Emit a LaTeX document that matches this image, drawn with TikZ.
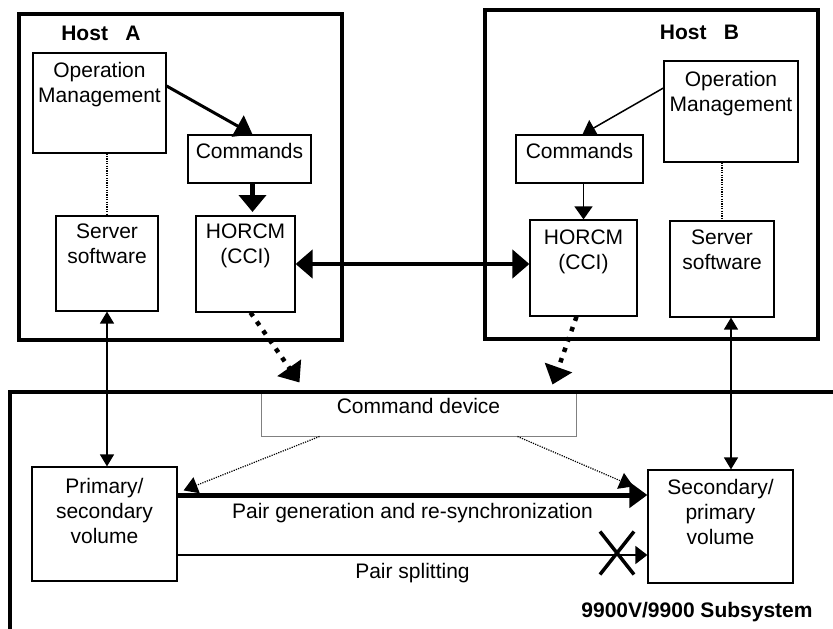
\documentclass[tikz,border=0pt]{standalone}
\usepackage{fontspec}
\setmainfont{Liberation Sans}
\usetikzlibrary{arrows.meta,positioning}

\begin{document}
\begin{tikzpicture}[x=1pt, y=-1pt,
    font=\fontsize{21}{25}\selectfont,
    box/.style={draw, line width=1.2pt, inner sep=0pt},
    devbox/.style={draw=black!50, line width=1pt, inner sep=0pt},
    hostbox/.style={draw, line width=4pt, inner sep=0pt},
    txt/.style={inner sep=0pt, align=center, anchor=north},
    boldtxt/.style={txt, font=\fontsize{21}{25}\selectfont\bfseries},
    link/.style={line width=1.4pt, {Triangle[length=12pt,width=14pt]}-{Triangle[length=12pt,width=14pt]}},
    call/.style={line width=1.5pt, -{Triangle[length=13pt,width=18pt]}},
    bigcall/.style={line width=3pt, -{Triangle[length=17pt,width=24pt]}},
    fatlink/.style={line width=4.5pt, {Triangle[length=17pt,width=28pt]}-{Triangle[length=17pt,width=28pt]}},
    devlink/.style={line width=4.5pt, dash pattern=on 4.5pt off 6.5pt, -{Triangle[length=18pt,width=28pt]}},
    faint/.style={line width=1.2pt, dash pattern=on 1.2pt off 1.2pt},
    cutmark/.style={line width=3.5pt}]
  \useasboundingbox (0,0) rectangle (833,629);

  \node[hostbox, minimum width=323pt, minimum height=326pt] (hostA) at (180.5,177) {};
  \node[hostbox, minimum width=333pt, minimum height=329pt] (hostB) at (651.5,174.5) {};
  \node[boldtxt] (hostAt) at (101,26) {Host~~~A};
  \node[boldtxt] (hostBt) at (699.5,25) {Host~~~B};

  \node[box, minimum width=133pt, minimum height=100pt] (opA) at (99.5,103) {};
  \node[box, minimum width=123pt, minimum height=48pt] (cmdA) at (249.5,159) {};
  \node[box, minimum width=102pt, minimum height=95pt] (srvA) at (107,263.5) {};
  \node[box, minimum width=99pt, minimum height=96pt] (horA) at (245.5,264) {};
  \node[txt] (opAt) at (99.5,62) {Operation\\Management};
  \node[txt] (cmdAt) at (249.5,143) {Commands};
  \node[txt] (srvAt) at (107,224) {Server\\software};
  \node[txt] (horAt) at (245.5,224) {HORCM\\(CCI)};

  \node[box, minimum width=134pt, minimum height=101pt] (opB) at (731,111.5) {};
  \node[box, minimum width=127pt, minimum height=48pt] (cmdB) at (579.5,159) {};
  \node[box, minimum width=107pt, minimum height=96pt] (horB) at (583.5,268) {};
  \node[box, minimum width=104pt, minimum height=96pt] (srvB) at (722,269) {};
  \node[txt] (opBt) at (731,71) {Operation\\Management};
  \node[txt] (cmdBt) at (579.5,143) {Commands};
  \node[txt] (horBt) at (583.5,230) {HORCM\\(CCI)};
  \node[txt] (srvBt) at (722,230) {Server\\software};

  \node[devbox, minimum width=315pt, minimum height=44pt] (cmddev) at (418.5,414) {};
  \node[txt] (cmddevt) at (418.5,398) {Command device};
  \node[box, minimum width=145pt, minimum height=114pt] (prim) at (104.5,524) {};
  \node[box, minimum width=145pt, minimum height=113pt] (sec) at (720.5,526.5) {};
  \node[txt] (primt) at (104.5,478) {Primary/\\secondary\\volume};
  \node[txt] (sect) at (720.5,479) {Secondary/\\primary\\volume};
  \node[boldtxt] (subt) at (697,602) {9900V/9900 Subsystem};
  \draw[line width=3.5pt] (840,392) -- (10,392) -- (10,640);

  \draw[bigcall] ([yshift=17pt]opA.east) -- ([xshift=3pt]cmdA.north);
  \draw[line width=4.5pt, -{Triangle[length=17pt,width=27pt]}, shorten >=3.4pt]
    ([xshift=3pt]cmdA.south) -- ([xshift=3pt]cmdA.south |- horA.north);
  \draw[call] ([yshift=23.5pt]opB.west) -- ([xshift=3pt]cmdB.north);
  \draw[call] (horB.north |- cmdB.south) -- (horB.north);
  \draw[faint] (srvA.north |- opA.south) -- (srvA.north);
  \draw[faint] (srvB.north |- opB.south) -- (srvB.north);
  \draw[fatlink] (horA.east) -- (horA.east -| horB.west);

  \draw[link] (srvA.south) -- (srvA.south |- prim.north);
  \draw[link] ([xshift=9pt]srvB.south) -- ([xshift=9pt]srvB.south |- sec.north);
  \draw[devlink] ([xshift=5pt]horA.south) -- ([shift={(39,-9)}]cmddev.north west);
  \draw[devlink] ([xshift=-7pt]horB.south) -- ([shift={(-24,-7)}]cmddev.north east);
  \draw[faint, -{Triangle[length=14pt,width=17pt]}] ([xshift=-99pt]cmddev.south) -- ([shift={(6,24)}]prim.north east);
  \draw[faint, -{Triangle[length=14pt,width=17pt]}] ([xshift=99pt]cmddev.south) -- ([shift={(-14,17)}]sec.north west);

  \draw[line width=5pt, -{Triangle[length=18pt,width=25pt]}] ([yshift=29pt]prim.east) -- ([yshift=29pt]prim.east -| sec.west)
    node[txt, midway, below=6pt] (gent) {Pair generation and re-synchronization};
  \draw[line width=1.5pt, -{Triangle[length=12pt,width=18pt]}] ([yshift=-31pt]prim.east) -- ([yshift=-31pt]prim.east -| sec.west)
    node[txt, midway, below=7.5pt] (splitt) {Pair splitting};
  \coordinate (cut) at (617,553);
  \draw[cutmark] (cut) +(-17,-21.5) -- +(17,21.5) +(-17,21.5) -- +(17,-21.5);
\end{tikzpicture}
\end{document}
